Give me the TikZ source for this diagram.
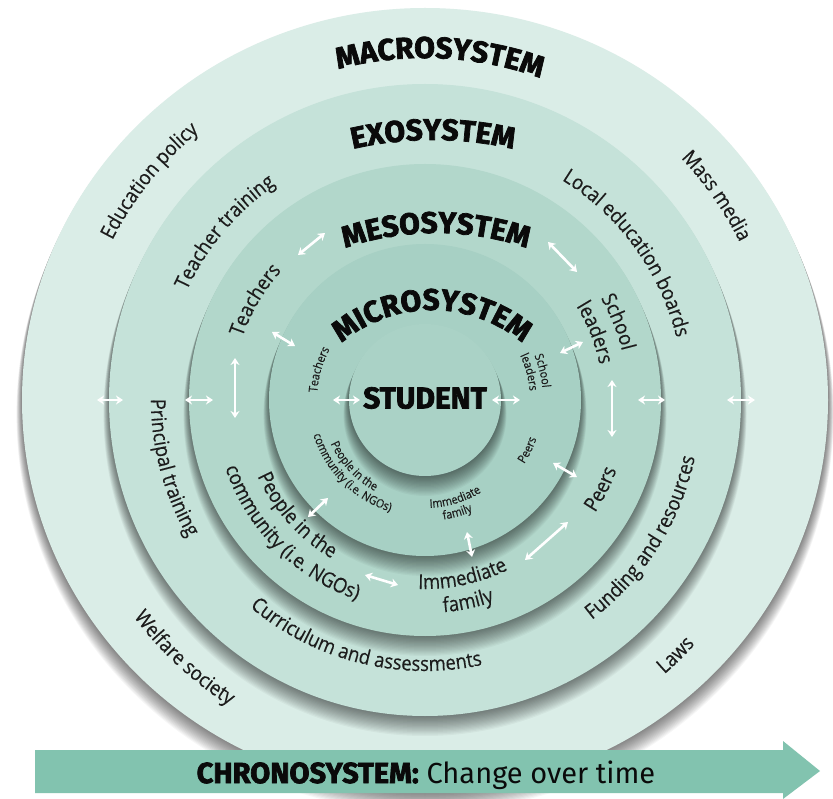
\documentclass[tikz,border=0pt]{standalone}
\usepackage{fontspec}
\usetikzlibrary{calc,decorations.text,arrows.meta}
\setmainfont{Open Sans}
\newfontfamily\lblfam{Open Sans}[FakeStretch=0.9,FakeBold=0.3]
\newfontfamily\hdfam{Fira Sans}[BoldFeatures={FakeBold=2.4}]
\definecolor{macroc}{HTML}{DAEDE7}
\definecolor{exoc}{HTML}{C5E2D9}
\definecolor{mesoc}{HTML}{B2D7CB}
\definecolor{microc}{HTML}{A7D0C4}
\definecolor{studc}{HTML}{AAD2C6}
\definecolor{chronoc}{HTML}{82C3AF}
\definecolor{txt}{HTML}{1C1C1C}
\definecolor{hdc}{HTML}{0A0A0A}
\newcommand\lblfmt{\lblfam\fontsize{20.5}{24}\selectfont\color{txt}}
\newcommand\slblfmt{\lblfam\fontsize{12}{14}\selectfont\color{txt}}
\newcommand\hdfmt{\hdfam\bfseries\fontsize{30}{30}\selectfont\color{hdc}}
% text along a clockwise arc (tops outward): centre, radius, mid angle, format, text
\newcommand\cwtext[5]{%
  \path[decorate,decoration={text along path,text align=center,text={|#4|#5}}]
    ($(#1)+({#3+80}:#2)$) arc[start angle={#3+80}, end angle={#3-80}, radius=#2];}
% text along a counter-clockwise arc (tops inward)
\newcommand\ccwtext[5]{%
  \path[decorate,decoration={text along path,text align=center,text={|#4|#5}}]
    ($(#1)+({#3-80}:#2)$) arc[start angle={#3-80}, end angle={#3+80}, radius=#2];}
\newcommand\softshadow[2]{%
  \foreach \k in {1,...,16}{\fill[black,opacity=0.035] ($(C)+(0,-\k*0.9)$) circle[x radius=#1+0.35*\k, y radius=#2+0.35*\k];}}
\tikzset{
  link/.style={white,line width=2.6pt,{Stealth[length=7pt,width=9pt]}-{Stealth[length=7pt,width=9pt]}}
}
\begin{document}
\begin{tikzpicture}[x=1pt,y=1pt]
\useasboundingbox (0,0) rectangle (833,-799);
\fill[white] (0,0) rectangle (833,-799);
\coordinate (C) at (425,-400);
% rings
\softshadow{403}{392}
\fill[macroc] (C) circle[x radius=403, y radius=392];
\softshadow{316}{316}
\fill[exoc] (C) circle[radius=316];
\softshadow{236}{236}
\fill[mesoc] (C) circle[radius=236];
\softshadow{156}{156}
\fill[microc] (C) circle[radius=156];
\softshadow{76}{76}
\fill[studc] (C) circle[radius=76];
% heading centres
\coordinate (Cmacro) at (425,-400);
\coordinate (Cexo) at (433,-500);
\coordinate (Cmeso) at (436,-513);
\coordinate (Cmicro) at (432,-450);
\cwtext{Cmacro}{342}{87.5}{\hdfmt}{MACROSYSTEM}
\cwtext{Cexo}{360}{90}{\hdfmt}{EXOSYSTEM}
\cwtext{Cmeso}{280}{90}{\hdfmt}{MESOSYSTEM}
\cwtext{Cmicro}{140}{90}{\hdfmt}{MICROSYSTEM}
\node[font=\hdfmt, inner sep=0pt] (student) at (425,-398) {STUDENT};
% macrosystem labels
\cwtext{C}{351}{141.5}{\lblfmt}{Education policy}
\cwtext{C}{352}{35}{\lblfmt}{Mass media}
\ccwtext{C}{363}{227}{\lblfmt}{Welfare society}
\ccwtext{C}{364}{314.5}{\lblfmt}{Laws}
% exosystem labels
\cwtext{C}{262}{140}{\lblfmt}{Teacher training}
\cwtext{C}{259}{36}{\lblfmt}{Local education boards}
\ccwtext{C}{274}{195}{\lblfmt}{Principal training}
\ccwtext{C}{271}{256}{\lblfmt}{Curriculum and assessments}
\ccwtext{C}{276}{327.6}{\lblfmt}{Funding and resources}
% mesosystem labels
\cwtext{C}{193}{149.5}{\lblfmt}{Teachers}
\cwtext{C}{203}{22}{\lblfmt}{School}
\cwtext{C}{178}{21.6}{\lblfmt}{leaders}
\ccwtext{C}{204}{333.2}{\lblfmt}{Peers}
\ccwtext{C}{184}{222}{\lblfmt}{People in the}
\ccwtext{C}{211}{225}{\lblfmt}{community (i.e. NGOs)}
\ccwtext{C}{189}{282}{\lblfmt}{Immediate}
\ccwtext{C}{213}{282}{\lblfmt}{family}
% microsystem labels
\cwtext{C}{108}{164}{\slblfmt}{Teachers}
\cwtext{C}{118}{14}{\slblfmt}{School}
\cwtext{C}{105}{15}{\slblfmt}{leaders}
\ccwtext{C}{118}{334}{\slblfmt}{Peers}
\ccwtext{C}{108}{287}{\slblfmt}{Immediate}
\ccwtext{C}{121}{286}{\slblfmt}{family}
\ccwtext{C}{104}{223}{\slblfmt}{People in the}
\ccwtext{C}{117}{225}{\slblfmt}{community (i.e. NGOs)}
% connectors
\foreach \n/\xa/\ya/\xb/\yb in {
  1/97/400/123/400, 2/185/400/213/400, 3/333/400/360/400, 4/492/400/520/400,
  5/638/400/665/400, 6/727/400/755/400, 7/235/358/235/418, 8/612/380/612/437,
  9/298/255/325/233, 10/548/242/577/272, 11/272/332/295/346, 12/560/353/583/342,
  13/553/463/577/477, 14/308/517/328/498, 15/467/532/472/557, 16/525/560/568/522,
  17/365/575/398/585}{
  \coordinate (s\n) at (\xa,-\ya);
  \coordinate (e\n) at (\xb,-\yb);
  \draw[link] (s\n) -- (e\n);
}
% chronosystem arrow
\fill[chronoc] (35,-750) -- (783,-750) -- (783,-741) -- (820,-771) -- (783,-799) -- (783,-793) -- (35,-793) -- cycle;
\node[anchor=base, inner sep=0pt, font=\hdfam\fontsize{29}{29}\selectfont\color{hdc}] (chrono) at (426,-783)
  {\bfseries CHRONOSYSTEM:\mdseries{} Change over time};
\end{tikzpicture}
\end{document}
